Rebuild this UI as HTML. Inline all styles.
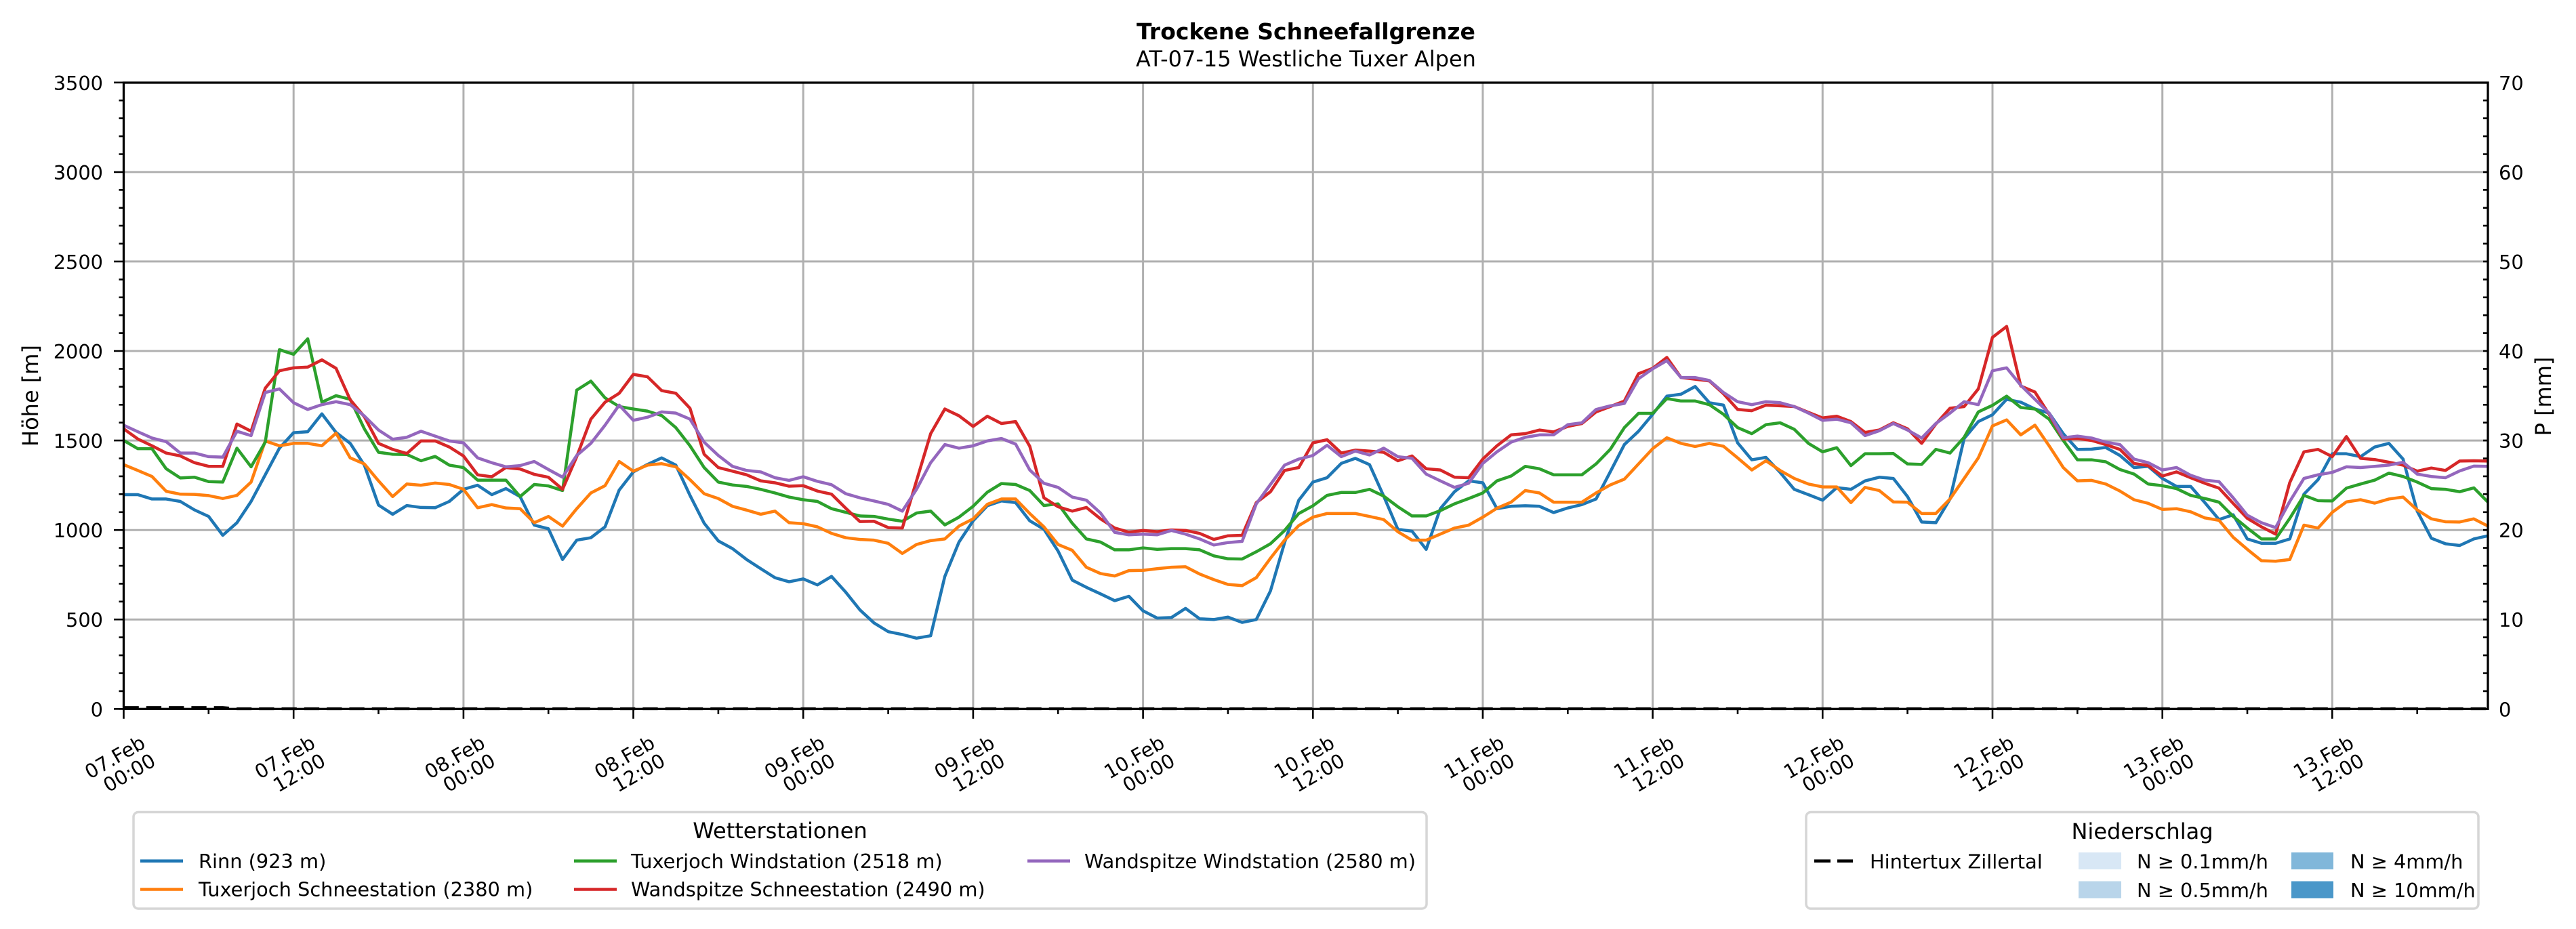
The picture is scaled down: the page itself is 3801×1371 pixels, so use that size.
<!DOCTYPE html>
<html><head><meta charset="utf-8"><style>
html,body{margin:0;padding:0;background:#fff;}
svg{display:block;}
text{font-family:"DejaVu Sans","Liberation Sans",sans-serif;fill:#000;}
.tk{font-size:28.8px;}
.ser{fill:none;stroke-width:4.5;stroke-linejoin:round;stroke-linecap:square;}
</style></head><body>
<svg width="3801" height="1371" viewBox="0 0 3801 1371" xmlns="http://www.w3.org/2000/svg">
<rect x="0" y="0" width="3801" height="1371" fill="#fff"/>
<defs><clipPath id="ax"><rect x="182.5" y="122" width="3488.5" height="924.3"/></clipPath></defs>

<!-- grid -->
<g stroke="#b0b0b0" stroke-width="3" fill="none">
<path d="M182.5 914.2H3671M182.5 782.2H3671M182.5 650.1H3671M182.5 518H3671M182.5 385.9H3671M182.5 253.9H3671"/>
<path d="M433.2 122V1046M683.9 122V1046M934.5 122V1046M1185.2 122V1046M1435.9 122V1046M1686.6 122V1046M1937.3 122V1046M2187.9 122V1046M2438.6 122V1046M2689.3 122V1046M2940 122V1046M3190.7 122V1046M3441.3 122V1046"/>
</g>

<!-- series -->
<g clip-path="url(#ax)">
<g transform="matrix(20.89 0 0 0.357143 182.5 440)">
<polyline class="ser" vector-effect="non-scaling-stroke" stroke="#1f77b4" points="0,812 1,812 2,830 3,830 4,840 5,875 6,902 7,980 8,928 9,840 10,730 11,620 12,556 13,552 14,478 15,555 16,600 17,690 18,855 19,893 20,857 21,865 22,866 23,840 24,790 25,773 26,812 27,787 28,820 29,938 30,953 31,1080 32,1000 33,990 34,945 35,793 36,718 37,687 38,660 39,690 40,815 41,930 42,1003 43,1035 44,1080 45,1118 46,1155 47,1172 48,1160 49,1185 50,1150 51,1215 52,1288 53,1342 54,1378 55,1390 56,1405 57,1395 58,1150 59,1008 60,920 61,858 62,838 63,845 64,920 65,955 66,1045 67,1165 68,1195 69,1222 70,1250 71,1232 72,1292 73,1322 74,1320 75,1282 76,1325 77,1328 78,1318 79,1340 80,1328 81,1210 82,1010 83,835 84,760 85,742 86,683 87,662 88,688 89,818 90,955 91,963 92,1038 93,870 94,800 95,755 96,763 97,870 98,860 99,858 100,860 101,886 102,867 103,853 104,830 105,718 106,605 107,550 108,480 109,405 110,397 111,365 112,432 113,442 114,598 115,668 116,658 117,720 118,790 119,812 120,835 121,783 122,790 123,755 124,740 125,745 126,820 127,925 128,928 129,830 130,580 131,510 132,482 133,418 134,430 135,458 136,475 137,560 138,625 139,624 140,617 141,650 142,700 143,695 144,745 145,778 146,778 147,845 148,915 149,895 150,995 151,1013 152,1013 153,995 154,810 155,750 156,643 157,643 158,655 159,615 160,600 161,665 162,880 163,992 164,1015 165,1022 166,995 167,982"/>
<polyline class="ser" vector-effect="non-scaling-stroke" stroke="#ff7f0e" points="0,688 1,712 2,737 3,798 4,810 5,811 6,816 7,828 8,815 9,760 10,590 11,610 12,600 13,600 14,610 15,558 16,660 17,685 18,755 19,820 20,768 21,773 22,764 23,770 24,790 25,866 26,853 27,867 28,870 29,928 30,902 31,942 32,870 33,805 34,775 35,675 36,715 37,690 38,684 39,697 40,750 41,808 42,828 43,860 44,876 45,893 46,880 47,928 48,932 49,945 50,972 51,990 52,997 53,1000 54,1013 55,1055 56,1018 57,1002 58,995 59,942 60,912 61,852 62,830 63,830 64,890 65,945 66,1018 67,1042 68,1112 69,1138 70,1148 71,1126 72,1125 73,1118 74,1112 75,1110 76,1140 77,1163 78,1183 79,1188 80,1155 81,1075 82,1000 83,940 84,905 85,890 86,890 87,890 88,902 89,915 90,965 91,1000 92,1000 93,975 94,950 95,938 96,905 97,868 98,843 99,795 100,805 101,843 102,843 103,843 104,805 105,772 106,748 107,685 108,622 109,577 110,600 111,613 112,600 113,612 114,660 115,710 116,672 117,712 118,745 119,768 120,780 121,780 122,845 123,782 124,795 125,842 126,843 127,890 128,890 129,830 130,745 131,660 132,528 133,503 134,565 135,525 136,610 137,700 138,755 139,753 140,768 141,797 142,833 143,848 144,873 145,870 146,883 147,908 148,918 149,988 150,1038 151,1085 152,1087 153,1080 154,938 155,950 156,885 157,842 158,833 159,847 160,830 161,822 162,875 163,912 164,924 165,925 166,912 167,942"/>
<polyline class="ser" vector-effect="non-scaling-stroke" stroke="#2ca02c" points="0,588 1,622 2,622 3,705 4,743 5,740 6,758 7,760 8,620 9,697 10,595 11,213 12,232 13,168 14,430 15,403 16,418 17,540 18,637 19,645 20,646 21,672 22,654 23,690 24,700 25,752 26,752 27,752 28,820 29,770 30,776 31,795 32,380 33,343 34,412 35,448 36,458 37,467 38,485 39,535 40,610 41,700 42,760 43,772 44,778 45,790 46,805 47,822 48,833 49,840 50,870 51,885 52,900 53,902 54,913 55,922 56,888 57,880 58,937 59,905 60,860 61,802 62,766 63,770 64,795 65,857 66,850 67,930 68,995 69,1008 70,1040 71,1040 72,1032 73,1038 74,1035 75,1035 76,1040 77,1065 78,1077 79,1078 80,1048 81,1015 82,960 83,890 84,858 85,815 86,803 87,803 88,790 89,818 90,862 91,900 92,900 93,878 94,850 95,828 96,805 97,755 98,735 99,695 100,705 101,730 102,730 103,730 104,685 105,625 106,535 107,476 108,476 109,415 110,425 111,425 112,440 113,480 114,535 115,560 116,523 117,515 118,542 119,600 120,635 121,618 122,692 123,643 124,643 125,642 126,685 127,687 128,625 129,640 130,575 131,470 132,443 133,405 134,452 135,458 136,500 137,588 138,668 139,668 140,676 141,708 142,727 143,768 144,775 145,787 146,815 147,828 148,843 149,902 150,950 151,995 152,995 153,910 154,815 155,837 156,838 157,785 158,768 159,752 160,723 161,737 162,760 163,787 164,790 165,800 166,784 167,843"/>
<polyline class="ser" vector-effect="non-scaling-stroke" stroke="#d62728" points="0,540 1,582 2,610 3,640 4,652 5,680 6,695 7,695 8,520 9,550 10,372 11,300 12,288 13,285 14,255 15,290 16,420 17,490 18,600 19,625 20,642 21,590 22,590 23,615 24,652 25,730 26,738 27,700 28,706 29,728 30,740 31,790 32,655 33,500 34,430 35,393 36,315 37,325 38,382 39,393 40,455 41,645 42,700 43,715 44,730 45,755 46,763 47,777 48,775 49,797 50,810 51,868 52,923 53,922 54,948 55,950 56,755 57,560 58,458 59,486 60,530 61,488 62,518 63,510 64,612 65,825 66,862 67,880 68,865 69,912 70,950 71,967 72,960 73,965 74,958 75,960 76,972 77,997 78,982 79,980 80,845 81,800 82,712 83,700 84,598 85,585 86,640 87,628 88,632 89,637 90,672 91,652 92,705 93,710 94,740 95,742 96,665 97,610 98,565 99,560 100,545 101,553 102,530 103,518 104,470 105,448 106,425 107,312 108,290 109,245 110,328 111,335 112,342 113,395 114,460 115,465 116,442 117,445 118,448 119,472 120,495 121,488 122,510 123,555 124,545 125,515 126,540 127,600 128,520 129,455 130,448 131,375 132,162 133,117 134,363 135,388 136,480 137,582 138,580 139,588 140,605 141,625 142,683 143,692 144,735 145,718 146,742 147,765 148,785 149,848 150,910 151,945 152,975 153,762 154,635 155,625 156,655 157,572 158,662 159,667 160,678 161,690 162,715 163,702 164,712 165,673 166,672 167,673"/>
<polyline class="ser" vector-effect="non-scaling-stroke" stroke="#9467bd" points="0,525 1,552 2,578 3,593 4,640 5,640 6,655 7,657 8,550 9,568 10,390 11,375 12,432 13,460 14,440 15,428 16,440 17,487 18,545 19,583 20,575 21,550 22,570 23,590 24,598 25,660 26,680 27,697 28,692 29,675 30,708 31,740 32,650 33,600 34,525 35,442 36,505 37,492 38,470 39,475 40,500 41,595 42,650 43,695 44,712 45,718 46,742 47,753 48,738 49,757 50,771 51,808 52,825 53,838 54,852 55,880 56,790 57,680 58,605 59,620 60,610 61,590 62,580 63,603 64,710 65,765 66,782 67,822 68,835 69,888 70,968 71,978 72,975 73,978 74,960 75,975 76,995 77,1020 78,1010 79,1005 80,850 81,770 82,690 83,665 84,650 85,608 86,655 87,632 88,648 89,620 90,655 91,662 92,727 93,755 94,782 95,765 96,683 97,635 98,595 99,575 100,565 101,565 102,523 103,515 104,460 105,445 106,435 107,333 108,292 109,258 110,328 111,328 112,340 113,390 114,428 115,440 116,428 117,432 118,448 119,475 120,505 121,500 122,515 123,568 124,548 125,518 126,545 127,578 128,518 129,475 130,428 131,440 132,300 133,288 134,360 135,418 136,475 137,577 138,570 139,578 140,595 141,605 142,665 143,680 144,710 145,700 146,732 147,752 148,758 149,825 150,897 151,928 152,948 153,840 154,745 155,730 156,720 157,697 158,700 159,695 160,690 161,678 162,727 163,737 164,742 165,714 166,694 167,695"/>
</g>
</g>

<!-- precipitation dashed line -->
<polyline points="182.5,1044.2 328.7,1044.2 349.6,1046 3671,1046" fill="none" stroke="#000" stroke-width="4.2" stroke-dasharray="22.3 11"/>

<!-- spines -->
<rect x="182.5" y="122" width="3488.5" height="924.3" fill="none" stroke="#000" stroke-width="3.3"/>

<!-- ticks -->
<g stroke="#000" stroke-width="2.6" fill="none">
<path d="M175.5 1046.3H182.5M175.5 1019.9H182.5M175.5 993.5H182.5M175.5 967.1H182.5M175.5 940.6H182.5M175.5 887.8H182.5M175.5 861.4H182.5M175.5 835H182.5M175.5 808.6H182.5M175.5 755.8H182.5M175.5 729.3H182.5M175.5 702.9H182.5M175.5 676.5H182.5M175.5 623.7H182.5M175.5 597.3H182.5M175.5 570.8H182.5M175.5 544.4H182.5M175.5 491.6H182.5M175.5 465.2H182.5M175.5 438.8H182.5M175.5 412.4H182.5M175.5 359.5H182.5M175.5 333.1H182.5M175.5 306.7H182.5M175.5 280.3H182.5M175.5 227.5H182.5M175.5 201.1H182.5M175.5 174.6H182.5M175.5 148.2H182.5"/>
<path d="M168 1046.3H182.5M168 914.2H182.5M168 782.2H182.5M168 650.1H182.5M168 518H182.5M168 385.9H182.5M168 253.9H182.5M168 121.8H182.5"/>
<path d="M3664 1019.9H3671M3664 993.5H3671M3664 967.1H3671M3664 940.6H3671M3664 914.2H3671M3664 887.8H3671M3664 861.4H3671M3664 835H3671M3664 808.6H3671M3664 782.2H3671M3664 755.8H3671M3664 729.3H3671M3664 702.9H3671M3664 676.5H3671M3664 650.1H3671M3664 623.7H3671M3664 597.3H3671M3664 570.8H3671M3664 544.4H3671M3664 518H3671M3664 491.6H3671M3664 465.2H3671M3664 438.8H3671M3664 412.4H3671M3664 385.9H3671M3664 359.5H3671M3664 333.1H3671M3664 306.7H3671M3664 280.3H3671M3664 253.9H3671M3664 227.5H3671M3664 201.1H3671M3664 174.6H3671M3664 148.2H3671"/>
<path d="M182.5 1046V1060.7M433.2 1046V1060.7M683.9 1046V1060.7M934.5 1046V1060.7M1185.2 1046V1060.7M1435.9 1046V1060.7M1686.6 1046V1060.7M1937.3 1046V1060.7M2187.9 1046V1060.7M2438.6 1046V1060.7M2689.3 1046V1060.7M2940 1046V1060.7M3190.7 1046V1060.7M3441.3 1046V1060.7"/>
<path d="M307.8 1046V1054M558.5 1046V1054M809.2 1046V1054M1059.9 1046V1054M1310.6 1046V1054M1561.2 1046V1054M1811.9 1046V1054M2062.6 1046V1054M2313.3 1046V1054M2564 1046V1054M2814.6 1046V1054M3065.3 1046V1054M3316 1046V1054M3566.7 1046V1054"/>
</g>

<!-- y tick labels left -->
<g class="tk" text-anchor="end">
<text x="152" y="1057.3">0</text>
<text x="152" y="925.2">500</text>
<text x="152" y="793.2">1000</text>
<text x="152" y="661.1">1500</text>
<text x="152" y="529">2000</text>
<text x="152" y="396.9">2500</text>
<text x="152" y="264.9">3000</text>
<text x="152" y="132.8">3500</text>
</g>
<!-- y tick labels right -->
<g class="tk" text-anchor="start">
<text x="3687" y="1057.3">0</text>
<text x="3687" y="925.2">10</text>
<text x="3687" y="793.2">20</text>
<text x="3687" y="661.1">30</text>
<text x="3687" y="529">40</text>
<text x="3687" y="396.9">50</text>
<text x="3687" y="264.9">60</text>
<text x="3687" y="132.8">70</text>
</g>

<!-- x tick labels -->
<g class="tk" text-anchor="end">
<g transform="translate(216.5 1102) rotate(-30)"><text x="0" y="0">07.Feb</text><text x="0" y="30.5">00:00</text></g>
<g transform="translate(467.2 1102) rotate(-30)"><text x="0" y="0">07.Feb</text><text x="0" y="30.5">12:00</text></g>
<g transform="translate(717.9 1102) rotate(-30)"><text x="0" y="0">08.Feb</text><text x="0" y="30.5">00:00</text></g>
<g transform="translate(968.5 1102) rotate(-30)"><text x="0" y="0">08.Feb</text><text x="0" y="30.5">12:00</text></g>
<g transform="translate(1219.2 1102) rotate(-30)"><text x="0" y="0">09.Feb</text><text x="0" y="30.5">00:00</text></g>
<g transform="translate(1469.9 1102) rotate(-30)"><text x="0" y="0">09.Feb</text><text x="0" y="30.5">12:00</text></g>
<g transform="translate(1720.6 1102) rotate(-30)"><text x="0" y="0">10.Feb</text><text x="0" y="30.5">00:00</text></g>
<g transform="translate(1971.3 1102) rotate(-30)"><text x="0" y="0">10.Feb</text><text x="0" y="30.5">12:00</text></g>
<g transform="translate(2221.9 1102) rotate(-30)"><text x="0" y="0">11.Feb</text><text x="0" y="30.5">00:00</text></g>
<g transform="translate(2472.6 1102) rotate(-30)"><text x="0" y="0">11.Feb</text><text x="0" y="30.5">12:00</text></g>
<g transform="translate(2723.3 1102) rotate(-30)"><text x="0" y="0">12.Feb</text><text x="0" y="30.5">00:00</text></g>
<g transform="translate(2974 1102) rotate(-30)"><text x="0" y="0">12.Feb</text><text x="0" y="30.5">12:00</text></g>
<g transform="translate(3224.7 1102) rotate(-30)"><text x="0" y="0">13.Feb</text><text x="0" y="30.5">00:00</text></g>
<g transform="translate(3475.3 1102) rotate(-30)"><text x="0" y="0">13.Feb</text><text x="0" y="30.5">12:00</text></g>
</g>

<!-- axis labels -->
<text x="0" y="0" font-size="32" text-anchor="middle" transform="translate(56 584) rotate(-90)">Höhe [m]</text>
<text x="0" y="0" font-size="32" text-anchor="middle" transform="translate(3764 585) rotate(-90)">P [mm]</text>

<!-- titles -->
<text x="1927" y="58" font-size="33" font-weight="bold" text-anchor="middle">Trockene Schneefallgrenze</text>
<text x="1927" y="98" font-size="32" text-anchor="middle">AT-07-15 Westliche Tuxer Alpen</text>

<!-- legend 1 -->
<rect x="197" y="1198.5" width="1908" height="142.5" rx="7" fill="#fff" stroke="#d6d6d6" stroke-width="3.5"/>
<text x="1151" y="1237" font-size="32" text-anchor="middle">Wetterstationen</text>
<g stroke-width="4.5" fill="none">
<path d="M207 1270.6H270" stroke="#1f77b4"/>
<path d="M207 1312.5H270" stroke="#ff7f0e"/>
<path d="M847 1270.6H910" stroke="#2ca02c"/>
<path d="M847 1312.5H910" stroke="#d62728"/>
<path d="M1516 1270.6H1579" stroke="#9467bd"/>
</g>
<g class="tk">
<text x="293" y="1281">Rinn (923 m)</text>
<text x="293" y="1322.5">Tuxerjoch Schneestation (2380 m)</text>
<text x="931" y="1281">Tuxerjoch Windstation (2518 m)</text>
<text x="931" y="1322.5">Wandspitze Schneestation (2490 m)</text>
<text x="1600" y="1281">Wandspitze Windstation (2580 m)</text>
</g>

<!-- legend 2 -->
<rect x="2665" y="1198.5" width="992" height="142.5" rx="7" fill="#fff" stroke="#d6d6d6" stroke-width="3.5"/>
<text x="3161" y="1238" font-size="32" text-anchor="middle">Niederschlag</text>
<path d="M2677 1270.6H2734" stroke="#000" stroke-width="4.5" stroke-dasharray="24 10" fill="none"/>
<rect x="3067" y="1258" width="63" height="25" fill="#d8e7f5"/>
<rect x="3067" y="1300.5" width="63" height="25" fill="#b9d5ea"/>
<rect x="3381" y="1258" width="62" height="25" fill="#81b7da"/>
<rect x="3381" y="1300.5" width="62" height="25" fill="#4a97c9"/>
<g class="tk">
<text x="2759" y="1281.5">Hintertux Zillertal</text>
<text x="3153" y="1281.5">N ≥ 0.1mm/h</text>
<text x="3153" y="1324">N ≥ 0.5mm/h</text>
<text x="3468" y="1281.5">N ≥ 4mm/h</text>
<text x="3468" y="1324">N ≥ 10mm/h</text>
</g>
</svg>
</body></html>
